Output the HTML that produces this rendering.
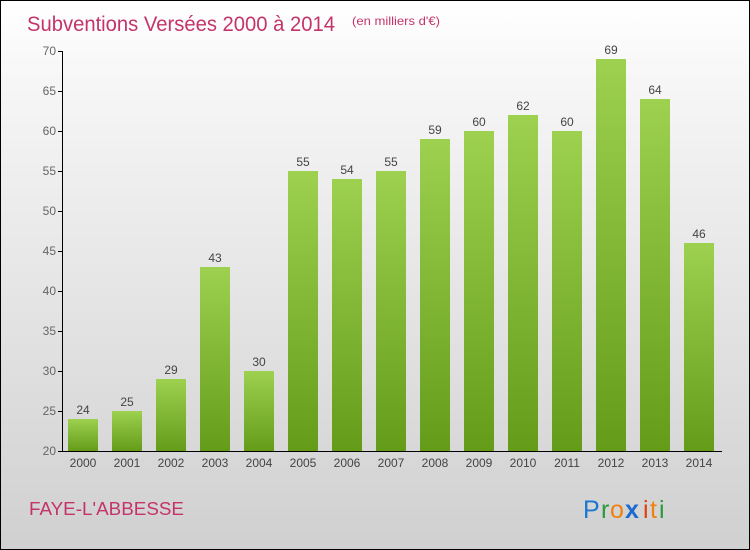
<!DOCTYPE html>
<html><head><meta charset="utf-8"><style>
body{margin:0}
#c{width:750px;height:550px;position:relative;overflow:hidden;box-sizing:border-box;border:1px solid #000;background:linear-gradient(#fff,#f6f6f6 15%,#d0d0d0);font-family:"Liberation Sans",sans-serif}
</style></head><body>
<div id="c">
<svg id="s" width="750" height="550" style="position:absolute;left:0;top:0">
<defs><linearGradient id="g" x1="0" y1="0" x2="0" y2="1"><stop offset="0" stop-color="#9dd14f"/><stop offset="1" stop-color="#649c19"/></linearGradient></defs>
<text x="26" y="30" font-size="21" fill="#c4346a" textLength="308" lengthAdjust="spacingAndGlyphs">Subventions Versées 2000 à 2014</text>
<text x="351" y="24" font-size="12" fill="#c4346a" textLength="88" lengthAdjust="spacingAndGlyphs">(en milliers d'€)</text>
<text x="28" y="514" font-size="18" fill="#c4346a" textLength="155" lengthAdjust="spacingAndGlyphs">FAYE-L'ABBESSE</text>
<g font-size="25">
<text x="582" y="517" fill="#1a78d0">P</text><text x="600" y="517" fill="#2a9a3a">r</text><text x="609" y="517" fill="#f08010">o</text><text x="624" y="517" fill="#1a6ad0" font-weight="bold">x</text><text x="642" y="517" fill="#e04010">i</text><text x="649" y="517" fill="#f08010">t</text><text x="658" y="517" fill="#2a9a3a">i</text></g>
<g id="bars"></g><g id="axes"></g>
</svg></div>
<script>
const years=["2000","2001","2002","2003","2004","2005","2006","2007","2008","2009","2010","2011","2012","2013","2014"];
const values=[24,25,29,43,30,55,54,55,59,60,62,60,69,64,46];
const yTicks=[20,25,30,35,40,45,50,55,60,65,70];
const NS="http://www.w3.org/2000/svg";
const y=v=>450-(v-20)*8, x=i=>82+i*44;
function mk(t,a,p){const e=document.createElementNS(NS,t);for(const k in a)e.setAttribute(k,a[k]);p.appendChild(e);return e;}
const B=document.getElementById('bars'),A=document.getElementById('axes');
values.forEach((v,i)=>{
const r=mk('rect',{x:x(i)-15,y:y(v),width:30,height:450-y(v),fill:'url(#g)'},B);


const t=mk('text',{x:x(i),y:y(v)-5,'text-anchor':'middle','font-size':12,fill:'#444'},B);t.textContent=v;


const l=mk('text',{x:x(i),y:466,'text-anchor':'middle','font-size':12,fill:'#444'},A);l.textContent=years[i];


});
mk('line',{x1:61.5,y1:50,x2:61.5,y2:450,stroke:'#000'},A);
mk('line',{x1:61,y1:450.5,x2:721,y2:450.5,stroke:'#000'},A);
yTicks.forEach(v=>{
mk('line',{x1:57,y1:y(v)+.5,x2:61,y2:y(v)+.5,stroke:'#000'},A);
const t=mk('text',{x:55,y:y(v)+4,'text-anchor':'end','font-size':12,fill:'#666'},A);t.textContent=v;


});
</script>
</body></html>
